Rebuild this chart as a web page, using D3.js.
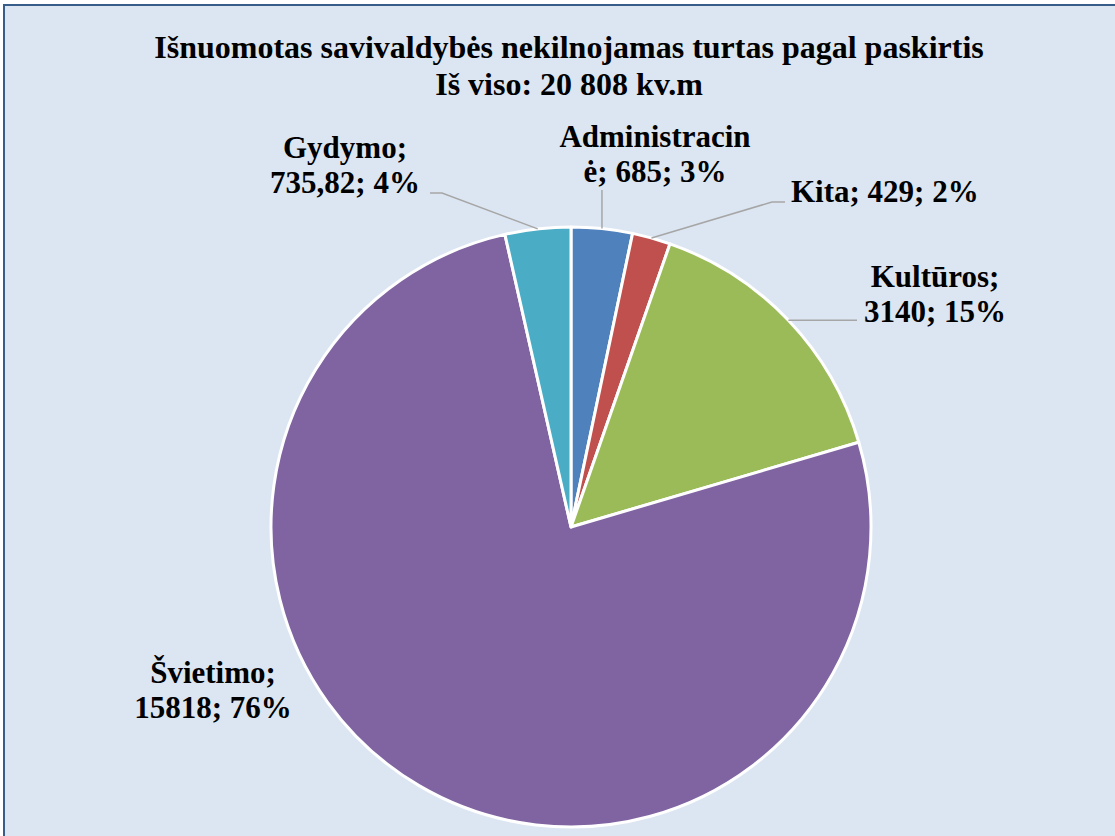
<!DOCTYPE html>
<html>
<head>
<meta charset="utf-8">
<script src="https://cdn.jsdelivr.net/npm/d3@7"></script>
<style>
body{margin:0;background:#fff;}
</style>
</head>
<body>
<svg id="chart" width="1115" height="836"></svg>
<script>
var categories = ["Administracinė","Kita","Kultūros","Švietimo","Gydymo"];
var values = [685,429,3140,15818,735.82];
var valueLabels = ["685","429","3140","15818","735,82"];
var percents = ["3%","2%","15%","76%","4%"];
var colors = ["#4f81bd","#c0504d","#9bbb59","#8064a2","#4bacc6"];
var titleLines = ["Išnuomotas savivaldybės nekilnojamas turtas pagal paskirtis","Iš viso: 20 808 kv.m"];

var W = 1115, H = 836;
var cx = 571, cy = 527, r = 300;
var FONT = "Liberation Serif";
var svg = d3.select("#chart");

svg.append("rect")
    .attr("x",4).attr("y",5)
    .attr("width",W+20).attr("height",H+20)
    .attr("fill","#dce6f2")
    .attr("stroke","#385d8a")
    .attr("stroke-width",2);

svg.selectAll("text.title")
    .data(titleLines)
    .enter().append("text")
    .attr("class","title")
    .attr("x",569)
    .attr("y",function(d,i){ return 58+i*37; })
    .attr("text-anchor","middle")
    .attr("font-family",FONT)
    .attr("font-weight","bold")
    .attr("font-size",32)
    .text(function(d){ return d; });

var pie = d3.pie().sort(null).value(function(d){ return d; });
var arcs = pie(values);
var arc = d3.arc().innerRadius(0).outerRadius(r);

var g = svg.append("g").attr("transform","translate("+cx+","+cy+")");
g.selectAll("path")
    .data(arcs)
    .enter().append("path")
    .attr("d",arc)
    .attr("fill",function(d,i){ return colors[i]; })
    .attr("stroke","#fff")
    .attr("stroke-width",3)
    .attr("stroke-linejoin","round");

// label layout (relative to pie centre)
var lay = [
    {lines:["Administracin","ė; 685; 3%"], x:84, y:-380, anchor:"middle", elbow:null, end:[31,-337]},
    {lines:["Kita; 429; 2%"], x:220, y:-325, anchor:"start", elbow:[201,-325], end:[214,-325]},
    {lines:["Kultūros;","3140; 15%"], x:364, y:-240, anchor:"middle", elbow:null, end:[286,-205]},
    {lines:["Švietimo;","15818; 76%"], x:-358, y:156, anchor:"middle", elbow:null, end:null},
    {lines:["Gydymo;","735,82; 4%"], x:-226, y:-369, anchor:"middle", elbow:[-129,-334], end:[-141,-334]}
];

arcs.forEach(function(a,i){
    var L = lay[i];
    var mid = (a.startAngle+a.endAngle)/2;
    var p0 = [r*Math.sin(mid), -r*Math.cos(mid)];
    if(L.end){
        var pts = [p0];
        if(L.elbow) pts.push(L.elbow);
        else if(i===2) pts.push([L.end[0],p0[1]]);
        if(i===0) pts.push([p0[0],L.end[1]]);
        else if(i!==2) pts.push(L.end);
        g.append("path")
            .attr("d",d3.line()(pts))
            .attr("fill","none")
            .attr("stroke","#a6a6a6")
            .attr("stroke-width",1.5);
    }
    var t = g.append("text")
        .attr("text-anchor",L.anchor)
        .attr("font-family",FONT)
        .attr("font-weight","bold")
        .attr("font-size",31);
    L.lines.forEach(function(s,j){
        t.append("tspan")
            .attr("x",L.x)
            .attr("y",L.y+j*35)
            .text(s);
    });
});
</script>
</body>
</html>
